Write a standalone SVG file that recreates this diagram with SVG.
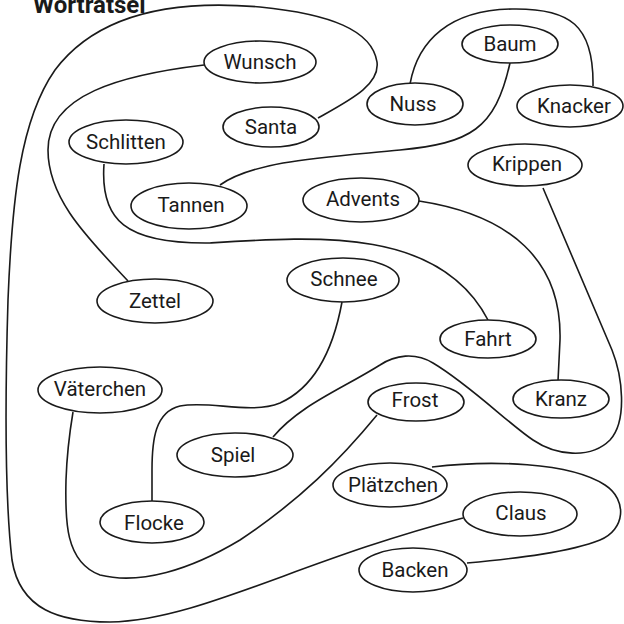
<svg xmlns="http://www.w3.org/2000/svg" width="624" height="624" viewBox="0 0 624 624">
<style>
.n ellipse{fill:#fff;stroke:#1a1a1a;stroke-width:1.6}
.n text{font-family:Roboto,"Liberation Sans",sans-serif;font-size:20.5px;fill:#1a1a1a;text-anchor:middle;dominant-baseline:central}
#links path{fill:none;stroke:#1a1a1a;stroke-width:1.6}
.title{font-family:Roboto,"Liberation Sans",sans-serif;font-weight:bold;font-size:24px;fill:#1a1a1a}
</style>
<rect width="624" height="624" fill="#fff"/>
<text class="title" x="33" y="13">Worträtsel</text>
<g id="links">
<path d="M204,65 C120,75 48,95 48,150 C48,200 90,240 128,281"/>
<path d="M318,118 C350,100 380,85 377,62 C372,30 330,14 260,7 C180,0 100,10 55,70 C20,120 12,200 8,300 C5,400 5,500 12,560 C20,610 60,622 110,622 C200,620 300,560 463,518"/>
<path d="M510,63 C495,130 470,143 400,150 C330,157 255,160 220,185"/>
<path d="M410,84 C418,40 450,10 512,9 C570,8 594,25 593,86"/>
<path d="M104,164 C100,220 125,244 210,243 C320,236 440,228 488,320"/>
<path d="M419,201 C510,215 562,260 560,340 L558,381"/>
<path d="M543,188 L612,350 C622,375 628,420 610,440 C590,460 555,455 533,440 C510,425 470,385 433,363 C415,352 395,355 380,365 C340,390 300,405 273,437"/>
<path d="M342,302 C335,340 320,385 280,403 C250,415 210,400 180,406 C155,412 152,440 152,470 L152,501"/>
<path d="M377,415 C340,460 300,500 240,540 C190,570 140,585 100,575 C65,562 65,520 66,480 C67,450 70,430 73,412"/>
<path d="M432,467 C490,460 570,462 605,485 C628,500 625,530 600,540 C570,552 520,558 467,563"/>
</g>
<g id="wunsch" class="n"><ellipse cx="260" cy="62" rx="56" ry="21"/><text x="260" y="62">Wunsch</text></g>
<g id="santa" class="n"><ellipse cx="271" cy="127" rx="48" ry="20"/><text x="271" y="127">Santa</text></g>
<g id="schlitten" class="n"><ellipse cx="126" cy="142" rx="57" ry="22"/><text x="126" y="142">Schlitten</text></g>
<g id="nuss" class="n"><ellipse cx="415" cy="104" rx="48" ry="21"/><text x="413" y="104">Nuss</text></g>
<g id="baum" class="n"><ellipse cx="510" cy="44" rx="48" ry="19"/><text x="510" y="44">Baum</text></g>
<g id="knacker" class="n"><ellipse cx="570" cy="106" rx="53" ry="21"/><text x="574" y="106">Knacker</text></g>
<g id="krippen" class="n"><ellipse cx="525" cy="165" rx="57" ry="21"/><text x="527" y="164">Krippen</text></g>
<g id="tannen" class="n"><ellipse cx="189" cy="206" rx="58" ry="23"/><text x="191" y="205">Tannen</text></g>
<g id="advents" class="n"><ellipse cx="361" cy="200" rx="58" ry="22"/><text x="363" y="199">Advents</text></g>
<g id="schnee" class="n"><ellipse cx="343" cy="280" rx="56" ry="22"/><text x="344" y="279">Schnee</text></g>
<g id="zettel" class="n"><ellipse cx="155" cy="301" rx="58" ry="22"/><text x="155" y="301">Zettel</text></g>
<g id="fahrt" class="n"><ellipse cx="488" cy="339" rx="48" ry="19"/><text x="488" y="339">Fahrt</text></g>
<g id="kranz" class="n"><ellipse cx="561" cy="399" rx="48" ry="19"/><text x="561" y="399">Kranz</text></g>
<g id="frost" class="n"><ellipse cx="416" cy="402" rx="48" ry="19"/><text x="415" y="400">Frost</text></g>
<g id="vaeterchen" class="n"><ellipse cx="100" cy="390" rx="62" ry="23"/><text x="100" y="389">Väterchen</text></g>
<g id="spiel" class="n"><ellipse cx="235" cy="455" rx="58" ry="22"/><text x="233" y="455">Spiel</text></g>
<g id="flocke" class="n"><ellipse cx="152" cy="522" rx="52" ry="21"/><text x="154" y="523">Flocke</text></g>
<g id="plaetzchen" class="n"><ellipse cx="390" cy="485" rx="57" ry="22"/><text x="393" y="485">Plätzchen</text></g>
<g id="claus" class="n"><ellipse cx="520" cy="514" rx="57" ry="22"/><text x="521" y="513">Claus</text></g>
<g id="backen" class="n"><ellipse cx="413" cy="570" rx="54" ry="22"/><text x="415" y="570">Backen</text></g>
</svg>
